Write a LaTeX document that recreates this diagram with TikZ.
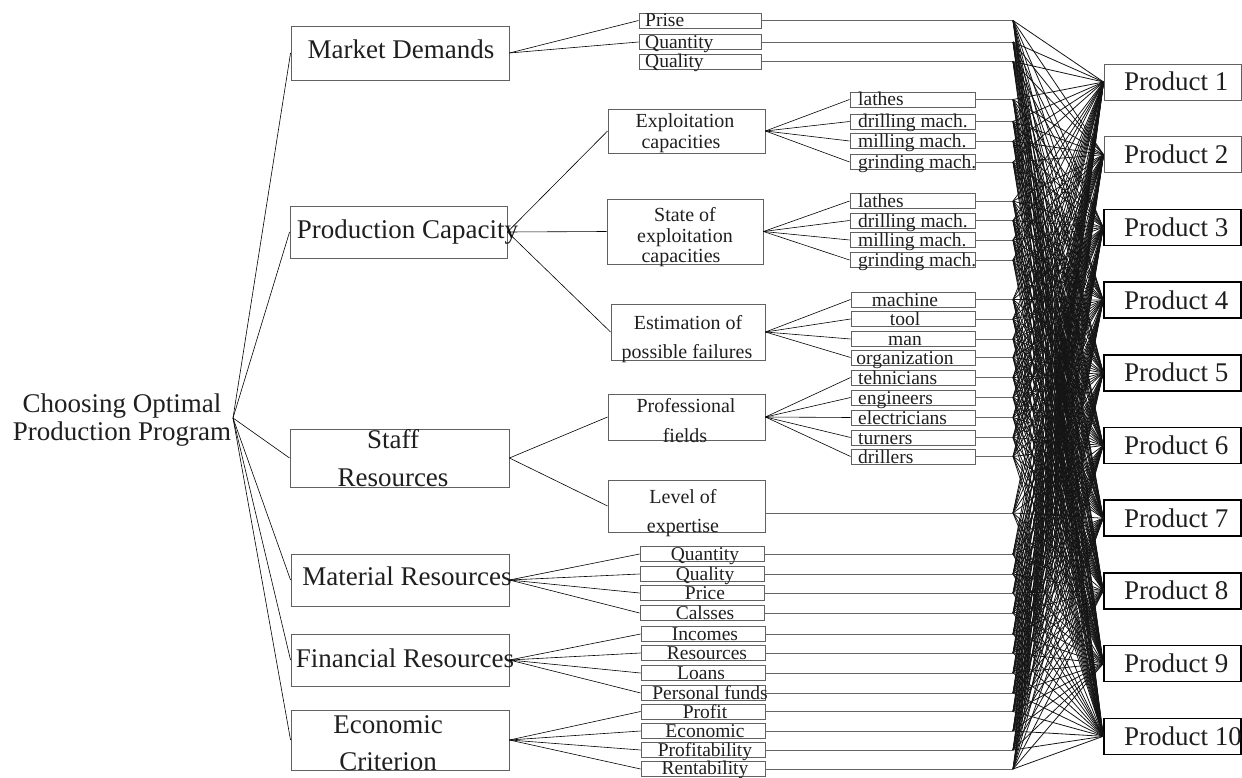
\documentclass[tikz,border=0pt]{standalone}
\usepackage{fontspec}
\setmainfont{Liberation Serif}
\begin{document}
\begin{tikzpicture}[x=1pt,y=-1pt,
  ink/.style={text=black!88},
  frame/.style={draw=black!62,line width=0.9pt,inner sep=0pt,rectangle},
  leafbox/.style={frame,minimum height=15pt},
  prodthin/.style={draw=black!62,line width=0.9pt,inner sep=0pt,minimum width=137pt,minimum height=36pt},
  prodthick/.style={draw=black,line width=1.6pt,inner sep=0pt,minimum width=137pt,minimum height=36pt},
  bigtxt/.style={ink,inner sep=0pt,anchor=base,font=\fontsize{27}{29}\selectfont},
  midtxt/.style={ink,inner sep=0pt,anchor=base,font=\fontsize{20}{22}\selectfont},
  leaftxt/.style={ink,inner sep=0pt,font=\fontsize{19.5}{21}\selectfont},
  link/.style={draw=black,line width=0.6pt},
  feed/.style={draw=black!60,line width=0.9pt},
  fan/.style={draw=black!92,line width=0.8pt}]

\useasboundingbox (0,0) rectangle (1242,778);

% ---------- root ----------
\coordinate (root) at (233,418);
\node[bigtxt] (rootA) at (122,412) {Choosing Optimal};
\node[bigtxt] (rootB) at (122,440) {Production Program};

% ---------- first level ----------
\node[frame,minimum width=218pt,minimum height=54pt] (md) at (400,53) {};
\node[frame,minimum width=217pt,minimum height=52pt] (pc) at (398.5,232) {};
\node[frame,minimum width=219pt,minimum height=58pt] (sr) at (399.5,458) {};
\node[frame,minimum width=218pt,minimum height=52pt] (mr) at (400,580) {};
\node[frame,minimum width=218pt,minimum height=52pt] (fr) at (400,660) {};
\node[frame,minimum width=218pt,minimum height=60pt] (ec) at (400,740) {};

\node[bigtxt] (mdt) at (401,59) {Market Demands};
\node[bigtxt] (pct) at (407.5,238) {Production Capacity};
\node[bigtxt] (srt1) at (393,448) {Staff};
\node[bigtxt] (srt2) at (393,486) {Resources};
\node[bigtxt] (mrt) at (407,585) {Material Resources};
\node[bigtxt] (frt) at (405,667) {Financial Resources};
\node[bigtxt] (ect1) at (388,733) {Economic};
\node[bigtxt] (ect2) at (388,770) {Criterion};

\foreach \n in {md,pc,sr,mr,fr,ec} \draw[link] (root) -- (\n.west);

% ---------- second level ----------
\node[frame,minimum width=157pt,minimum height=44pt] (ex) at (686.5,131) {};
\node[frame,minimum width=156pt,minimum height=65pt] (st) at (685,231.5) {};
\node[frame,minimum width=154pt,minimum height=56pt] (es) at (688,332) {};
\node[frame,minimum width=157pt,minimum height=46pt] (pf) at (686.5,417) {};
\node[frame,minimum width=157pt,minimum height=52pt] (lv) at (686.5,506) {};

\node[midtxt] (ext1) at (685,128) {Exploitation};
\node[midtxt] (ext2) at (681,149) {capacities};
\node[midtxt] (stt1) at (685,222) {State of};
\node[midtxt] (stt2) at (685,242) {exploitation};
\node[midtxt] (stt3) at (681,262) {capacities};
\node[midtxt] (est1) at (688,329) {Estimation of};
\node[midtxt] (est2) at (687,358) {possible failures};
\node[midtxt] (pft1) at (686,412) {Professional};
\node[midtxt] (pft2) at (685,442) {fields};
\node[midtxt] (lvt1) at (683,503) {Level of};
\node[midtxt] (lvt2) at (683,532) {expertise};

\foreach \n in {ex,st,es} \draw[link] (pc.east) -- (\n.west);
\foreach \n in {pf,lv} \draw[link] (sr.east) -- (\n.west);

% ---------- leaves ----------
% market demands
\foreach \i/\y/\t in {1/20.5/Prise,2/42/Quantity,3/61.5/Quality}{
  \node[leafbox,minimum width=122pt] (l\i) at (700,\y) {};
  \node[leaftxt,anchor=base west] (lt\i) at (645,\y+6.5) {\t};
  \coordinate (b\i) at (1013,\y);
}
\foreach \i in {1,2} \draw[link] (md.east) -- (l\i.west);

% exploitation capacities
\foreach \i/\y/\t in {4/99.5/lathes,5/121.5/drilling mach.,6/141/milling mach.,7/162/grinding mach.}{
  \node[leafbox,minimum width=125pt] (l\i) at (912.5,\y) {};
  \node[leaftxt,anchor=base west] (lt\i) at (858,\y+6.5) {\t};
  \coordinate (b\i) at (1013,\y);
  \draw[link] (ex.east) -- (l\i.west);
}

% state of exploitation capacities
\foreach \i/\y/\t in {8/201/lathes,9/220.5/drilling mach.,10/240/milling mach.,11/260/grinding mach.}{
  \node[leafbox,minimum width=125pt] (l\i) at (912.5,\y) {};
  \node[leaftxt,anchor=base west] (lt\i) at (858,\y+6.5) {\t};
  \coordinate (b\i) at (1013,\y);
  \draw[link] (st.east) -- (l\i.west);
}

% estimation of possible failures
\foreach \i/\y/\t in {12/299.5/machine,13/319/tool,14/339/man,15/357.5/organization}{
  \node[leafbox,minimum width=124pt] (l\i) at (913,\y) {};
  \node[leaftxt,anchor=base] (lt\i) at (905,\y+6.5) {\t};
  \coordinate (b\i) at (1013,\y);
  \draw[link] (es.east) -- (l\i.west);
}

% professional fields
\foreach \i/\y/\t in {16/377.5/tehnicians,17/397.5/engineers,18/417.5/electricians,19/437.5/turners,20/456.5/drillers}{
  \node[leafbox,minimum width=124pt] (l\i) at (913,\y) {};
  \node[leaftxt,anchor=base west] (lt\i) at (858,\y+6.5) {\t};
  \coordinate (b\i) at (1013,\y);
  \draw[link] (pf.east) -- (l\i.west);
}

% material resources
\foreach \i/\y/\t in {21/554/Quantity,22/574/Quality,23/593/Price,24/613/Calsses}{
  \node[leafbox,minimum width=124pt] (l\i) at (702,\y) {};
  \node[leaftxt,anchor=base] (lt\i) at (705,\y+6.5) {\t};
  \coordinate (b\i) at (1013,\y);
  \draw[link] (mr.east) -- (l\i.west);
}

% financial resources
\foreach \i/\y/\t/\c in {25/634/Incomes/705,26/653/Resources/707,27/673/Loans/701,28/693/Personal funds/710}{
  \node[leafbox,minimum width=124pt] (l\i) at (703,\y) {};
  \node[leaftxt,anchor=base] (lt\i) at (\c,\y+6.5) {\t};
  \coordinate (b\i) at (1013,\y);
  \draw[link] (fr.east) -- (l\i.west);
}

% economic criterion
\foreach \i/\y/\t/\d in {29/711.5/Profit/6.5,30/731/Economic/6.5,31/750/Profitability/6,32/769/Rentability/5}{
  \node[leafbox,minimum width=124pt] (l\i) at (703,\y) {};
  \node[leaftxt,anchor=base] (lt\i) at (705,\y+\d) {\t};
  \coordinate (b\i) at (1013,\y);
  \draw[link] (ec.east) -- (l\i.west);
}

% feeds from the leaves to the junction column
\foreach \i in {1,...,32} \draw[feed] (l\i.east) -- (b\i);
\coordinate (b33) at (1013,513);
\draw[feed] (b33 -| lv.east) -- (b33);

% ---------- products ----------
\foreach \k in {1,2}
  \node[prodthin] (p\k) at (1172.5,{82+72.7*(\k-1)}) {};
\foreach \k in {3,...,10}
  \node[prodthick] (p\k) at (1172.5,{82+72.7*(\k-1)}) {};
\foreach \k in {1,...,10}
  \node[ink,inner sep=0pt,anchor=base west,font=\fontsize{27}{29}\selectfont] (pt\k) at (1124,{91+72.7*(\k-1)}) {Product \k};

% every criterion feeds every product
\foreach \i in {1,...,33}
  \foreach \k in {1,...,10}
    \draw[fan] (b\i) -- (p\k.west);

\end{tikzpicture}
\end{document}
